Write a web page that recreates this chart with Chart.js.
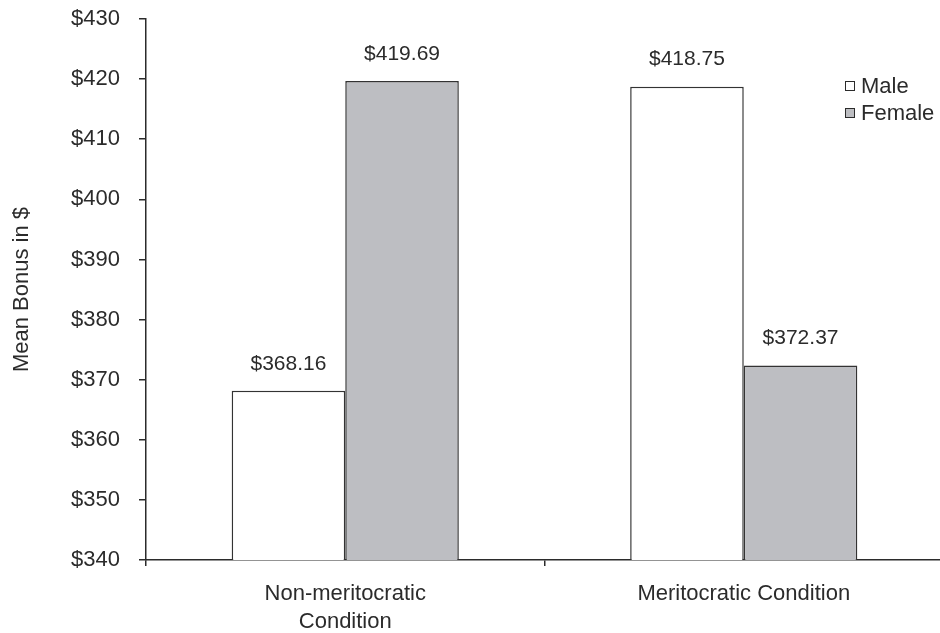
<!DOCTYPE html>
<html>
<head>
<meta charset="utf-8">
<script src="https://cdn.jsdelivr.net/npm/chart.js@4"></script>
<style>
  html, body { margin: 0; padding: 0; background: #fff; overflow: hidden; }
  #wrap { width: 940px; height: 633px; overflow: hidden; }
</style>
</head>
<body>
<div id="wrap"><canvas id="bonus-chart" width="943" height="633"></canvas></div>
<script>
const categories = [["Non-meritocratic", "Condition"], "Meritocratic Condition"];
const maleValues = [368.16, 418.75];
const femaleValues = [419.69, 372.37];
const seriesNames = ["Male", "Female"];
const yTicks = [340, 350, 360, 370, 380, 390, 400, 410, 420, 430];

const FONT = "'Liberation Sans', Arial, sans-serif";
const INK = "#2b2b2b";

// value labels over the bars
const valueLabels = {
    id: "valueLabels",
    afterDatasetsDraw(chart) {
        const ctx = chart.ctx;
        ctx.save();
        ctx.font = "21px " + FONT;
        ctx.fillStyle = INK;
        ctx.textAlign = "center";
        ctx.textBaseline = "middle";
        chart.data.datasets.forEach((ds, i) => {
            chart.getDatasetMeta(i).data.forEach((bar, j) => {
                ctx.fillText("$" + ds.data[j].toFixed(2), bar.x, bar.y - 27);
            });
        });
        ctx.restore();
    }
};

// small square legend at the upper right
const squareLegend = {
    id: "squareLegend",
    afterDraw(chart) {
        const ctx = chart.ctx;
        ctx.save();
        ctx.font = "22px " + FONT;
        ctx.textBaseline = "middle";
        chart.data.datasets.forEach((ds, i) => {
            const y = 86 + i * 27;
            ctx.fillStyle = ds.backgroundColor;
            ctx.fillRect(845, y - 5, 10, 10);
            ctx.strokeStyle = INK;
            ctx.lineWidth = 1;
            ctx.strokeRect(845.5, y - 4.5, 9, 9);
            ctx.fillStyle = INK;
            ctx.fillText(ds.label, 861, y + 1);
        });
        ctx.restore();
    }
};

const ctx = document.getElementById("bonus-chart").getContext("2d");
new Chart(ctx, {
    type: "bar",
    data: {
        labels: categories,
        datasets: [
            {
                label: seriesNames[0],
                data: maleValues,
                backgroundColor: "#ffffff",
                borderColor: "#333333",
                borderWidth: 1.5,
                borderSkipped: "bottom",
            },
            {
                label: seriesNames[1],
                data: femaleValues,
                backgroundColor: "#bdbec2",
                borderColor: "#333333",
                borderWidth: 1.5,
                borderSkipped: "bottom",
            },
        ],
    },
    options: {
        responsive: false,
        animation: false,
        layout: { padding: { top: 19, right: 0, left: 0, bottom: 0 } },
        categoryPercentage: 0.57,
        barPercentage: 1,
        plugins: {
            legend: { display: false },
            tooltip: { enabled: false },
        },
        scales: {
            x: {
                grid: { drawOnChartArea: false, tickLength: 6, color: INK, lineWidth: 1.5 },
                border: { color: INK, width: 1.5 },
                ticks: { color: INK, font: { family: FONT, size: 22, lineHeight: 1.28 }, padding: 14, maxRotation: 0 },
                afterFit(scale) { scale.height = 73; },
            },
            y: {
                min: 340,
                max: 430,
                afterBuildTicks(scale) { scale.ticks = yTicks.map(v => ({ value: v })); },
                grid: { drawOnChartArea: false, tickLength: 7, color: INK, lineWidth: 1.5 },
                border: { color: INK, width: 1.5 },
                ticks: {
                    color: INK,
                    font: { family: FONT, size: 22 },
                    padding: 19,
                    callback: v => "$" + v,
                },
                title: {
                    display: true,
                    text: "Mean Bonus in $",
                    color: INK,
                    font: { family: FONT, size: 22 },
                    padding: { top: 9, bottom: 0 },
                },
                afterFit(scale) {
                    scale.width = 146;
                    scale.paddingTop = 0;
                    scale.paddingBottom = 0;
                },
            },
        },
    },
    plugins: [valueLabels, squareLegend],
});
</script>
</body>
</html>
